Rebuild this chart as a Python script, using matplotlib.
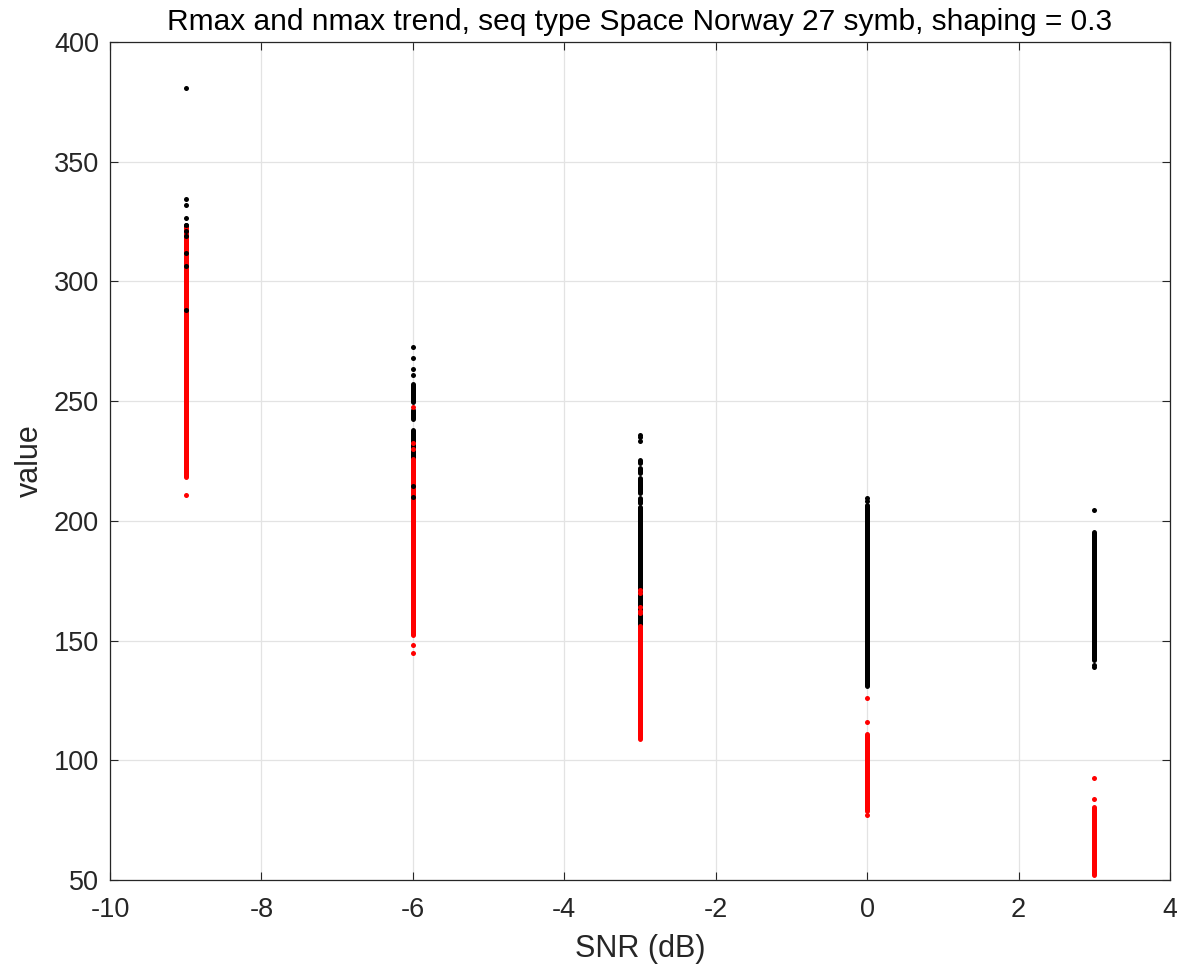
import numpy as np
import matplotlib.pyplot as plt

plt.rcParams['font.family'] = ['Liberation Sans', 'DejaVu Sans']
plt.rcParams['axes.unicode_minus'] = False

# SNR points (dB) where the trials were run
snr = [-9, -6, -3, 0, 3]

# Rmax: runs of densely packed results (snr, low, high) and isolated results
rmax_runs = [
    (-9, 316.0, 323.5),
    (-6, 249.5, 257.0),
    (-6, 242.5, 246.5),
    (-6, 226.0, 238.0),
    (-3, 224.0, 225.5),
    (-3, 220.0, 222.0),
    (-3, 211.5, 218.0),
    (-3, 207.5, 209.5),
    (-3, 156.5, 206.0),
    (0, 131.0, 206.5),
    (3, 142.0, 195.5),
]
rmax_snr = [-9, -9, -9, -9, -9, -9, -9, -9, -9, -9,
            -6, -6, -6, -6, -6, -6,
            -3, -3, -3,
            0, 0,
            3, 3, 3]
rmax_val = [381.0, 334.5, 332.0, 326.5, 323.5, 321.0, 319.0, 312.0, 306.5, 288.0,
            272.5, 268.0, 263.5, 261.0, 214.5, 210.0,
            236.0, 235.0, 233.5,
            209.5, 208.5,
            204.5, 140.0, 139.0]

# nmax: same layout
nmax_runs = [
    (-9, 218.5, 322.5),
    (-6, 152.5, 226.0),
    (-3, 109.0, 156.0),
    (0, 79.0, 111.0),
    (3, 52.0, 80.5),
]
nmax_snr = [-9, -6, -6, -6, -6, -6, -3, -3, -3, -3, -3, 0, 0, 0, 3, 3]
nmax_val = [211.0, 247.5, 232.5, 230.0, 148.0, 145.0,
            171.0, 170.0, 164.0, 162.5, 161.5,
            126.0, 116.0, 77.0,
            92.5, 84.0]

fig = plt.figure(figsize=(11.77, 9.64), dpi=100)
ax = fig.add_axes([0.0935, 0.0871, 0.9005, 0.8693])

dot_lw = 3.6
dot_s = dot_lw ** 2


def draw_runs(runs, color):
    x = [r[0] for r in runs]
    lo = [r[1] for r in runs]
    hi = [r[2] for r in runs]
    ax.vlines(x, lo, hi, colors=color, linewidth=dot_lw, capstyle='round', zorder=3)


draw_runs(rmax_runs, 'k')
draw_runs(nmax_runs, '#ff0000')
ax.scatter(nmax_snr, nmax_val, s=dot_s, c='#ff0000', linewidths=0, zorder=4)
ax.scatter(rmax_snr, rmax_val, s=dot_s, c='k', linewidths=0, zorder=5)

ax.set_xlim(-10, 4)
ax.set_ylim(50, 400)
ax.set_xticks(np.arange(-10, 5, 2))
ax.set_yticks(np.arange(50, 401, 50))

ax.grid(True, color='#e3e3e3', linewidth=0.9)
ax.set_axisbelow(True)
for sp in ax.spines.values():
    sp.set_color('#262626')
    sp.set_linewidth(0.9)
ax.tick_params(direction='in', top=True, right=True, length=6, width=0.8,
               color='#262626', labelcolor='#262626', labelsize=19.5, pad=8)
ax.tick_params(axis='x', pad=12)

ax.set_xlabel('SNR (dB)', fontsize=22, color='#262626', labelpad=8)
ax.set_ylabel('value', fontsize=22, color='#262626', labelpad=6)
ax.set_title('Rmax and nmax trend, seq type Space Norway 27 symb, shaping = 0.3',
             fontsize=21.5, color='#000000', pad=9)

fig.savefig('out.png', dpi=100)
